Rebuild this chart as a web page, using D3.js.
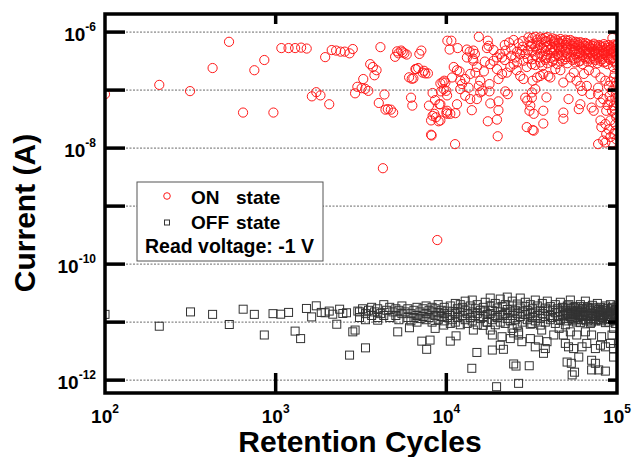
<!DOCTYPE html>
<html>
<head>
<meta charset="utf-8">
<script src="https://cdn.jsdelivr.net/npm/d3@7"></script>
<style>
  body { margin: 0; background: #fff; }
  text { font-family: "Liberation Sans", Arial, sans-serif; font-weight: bold; }
</style>
</head>
<body>
<div id="chart"></div>
<script>
// axis ticks
var xTicks = [100, 1000, 10000, 100000];
var xTickExp = ["2", "3", "4", "5"];
var yTicks = [1e-6, 1e-7, 1e-8, 1e-9, 1e-10, 1e-11, 1e-12];
var yLabelTicks = [1e-6, 1e-8, 1e-10, 1e-12];
var yTickExp = ["-6", "-8", "-10", "-12"];

// ON state: [cycles, current (A)]
var onState = [
  [100, 8.5e-8], [208, 1.23e-7], [315, 9.6e-8], [427, 2.4e-7], [533, 6.8e-7], [644, 4.1e-8], [750, 2.2e-7], [858, 3.3e-7], [970, 4.1e-8],
  [1080, 5.3e-7], [1190, 5.3e-7], [1300, 5.3e-7], [1410, 5.4e-7], [1520, 5.2e-7], [1630, 7.8e-8], [1730, 9.2e-8], [1830, 8.1e-8], [1950, 3.7e-7], [2060, 5.7e-8],
  [2130, 4.9e-7], [2260, 4.8e-7], [2400, 4.6e-7], [2540, 4.6e-7], [2710, 4.3e-7], [2830, 5.1e-7],
  [2920, 8.8e-8], [3010, 1.14e-7], [3190, 1.08e-7], [3260, 1.55e-7], [3350, 1.05e-7], [3490, 9.7e-8], [3580, 2.8e-7], [3710, 2.5e-7], [3790, 1.8e-7], [3900, 2.2e-7],
  [4020, 6.0e-8], [4110, 5.5e-7], [4250, 4.5e-9], [4340, 8.4e-8], [4400, 4.6e-8], [4540, 4.7e-8], [4730, 4.6e-8], [4880, 4.1e-8],
  [5010, 3.75e-7], [5150, 4.65e-7], [5240, 4.3e-7], [5440, 4.8e-7], [5550, 4.5e-7], [5680, 4.3e-7], [5860, 4.1e-7],
  [6050, 1.66e-7], [6210, 7.4e-8], [6270, 1.57e-7], [6320, 5.4e-8], [6410, 1.59e-7], [6590, 2.3e-7], [6650, 2.3e-7], [6840, 2.4e-7], [6950, 4.2e-7],
  [7140, 4.8e-7], [7270, 2.0e-7], [7400, 2.15e-7], [7530, 1.94e-7], [7800, 1.94e-7], [7910, 5.4e-8],
  [8140, 3.0e-8], [8140, 1.7e-8], [8200, 1.65e-8], [8310, 8.9e-8], [8310, 3.6e-8], [8510, 3.9e-8], [8590, 6.7e-8], [8690, 3.4e-8], [8850, 2.6e-10],
  [9010, 2.9e-8], [9100, 5.7e-8], [9230, 1.3e-7], [9230, 5.7e-8], [9230, 3.0e-8], [9300, 9.5e-8], [9500, 1.36e-7], [9650, 1.04e-7], [9720, 1.45e-7], [9870, 1.35e-7],
  [10000, 4.1e-8], [10000, 9.7e-8], [10100, 8.1e-8], [10100, 4.4e-8], [10140, 3.9e-8], [10140, 7.1e-7], [10450, 5.0e-7], [10550, 3.9e-8], [10700, 7.1e-7], [10800, 1.65e-7],
  [11050, 2.5e-7], [11290, 4.0e-8], [11250, 1.17e-8], [11550, 2.2e-7], [11550, 5.7e-8], [11650, 5.3e-7], [11950, 2.1e-7], [12070, 1.45e-7], [12070, 1.04e-7], [12350, 1.27e-7], [12900, 1.55e-7], [12900, 8.0e-8],
  [13200, 5.0e-7], [13200, 3.65e-7], [13500, 1.1e-7], [13700, 4.6e-7], [13800, 1.9e-7], [13800, 7.0e-8], [14100, 4.5e-8], [14300, 3.5e-7], [14400, 4.8e-7], [14400, 3.2e-7], [14700, 4.2e-7], [14800, 2.0e-7],
  [15100, 2.5e-7], [15100, 7.0e-8], [15500, 8.3e-7], [15500, 1.18e-7], [15800, 9.1e-8], [15800, 1.45e-7], [16300, 9.7e-8], [16600, 2.1e-7], [16800, 3.1e-7],
  [17300, 5.3e-7], [17500, 7.1e-7], [17500, 2.9e-8], [17700, 5.8e-7], [17900, 1.27e-7], [17900, 9.5e-8], [18100, 2.8e-7], [18100, 5.9e-8], [18900, 3.2e-7], [18900, 4.9e-7],
  [19800, 3.65e-7], [19800, 2.3e-7], [19800, 3.1e-8], [20000, 1.6e-8], [20200, 1.55e-7], [20200, 6.4e-8], [20200, 4.5e-8], [20700, 4.2e-7],
  [21200, 3.65e-7], [21200, 1.9e-7], [22000, 6.0e-7], [22000, 3.3e-7], [22150, 9.5e-8], [22200, 4.8e-7], [22600, 2.0e-7], [22900, 8.5e-8], [23300, 6.6e-7], [23700, 2.5e-7],
  [24000, 5.2e-7], [24000, 3.9e-7], [24800, 7.3e-7], [24800, 2.8e-7], [25350, 3.65e-7], [25800, 2.2e-7], [26000, 4.6e-7], [26000, 3.0e-7], [26500, 6.4e-7],
  [27100, 4.2e-7], [27100, 1.75e-7], [27700, 4.9e-7], [28000, 7.0e-7], [28000, 5.6e-7], [28300, 3.2e-7], [28300, 1.55e-7], [29000, 4.2e-7], [29000, 7.4e-8], [29600, 2.5e-7], [29600, 2.3e-8], [29800, 6.6e-8],
  [30000, 4.8e-7], [30000, 3.5e-7], [30300, 8.1e-7], [30700, 6.9e-7], [30700, 4.4e-8], [31050, 5.4e-8], [31300, 5.7e-7], [31700, 7.4e-8], [31700, 2.8e-7], [31700, 9.1e-8],
  [32000, 2.05e-8], [32000, 1.45e-7], [32500, 3.9e-8], [32500, 2.0e-8], [33200, 1.04e-7],
  [31900, 7.9e-7], [31900, 6.2e-7], [31900, 4.6e-7], [31900, 3.4e-7],
  [33200, 8.3e-7], [33200, 5.6e-7], [33200, 4.0e-7], [33200, 2.7e-7],
  [34100, 7.4e-7], [34100, 6.6e-7], [34100, 5.0e-7], [34100, 3.7e-7],
  [35500, 8.1e-7], [35500, 6.0e-7], [35500, 4.3e-7], [35500, 3.0e-7],
  [36500, 7.6e-7], [36500, 5.3e-7], [36500, 3.9e-7], [36500, 2.6e-7],
  [38000, 7.9e-7], [38000, 6.8e-7], [38000, 4.7e-7], [38000, 3.3e-7],
  [38500, 7.0e-7], [38500, 5.5e-7], [38500, 3.6e-7],
  [39100, 8.2e-7], [39100, 5.8e-7], [39100, 4.1e-7], [39100, 2.9e-7],
  [40700, 7.3e-7], [40700, 6.1e-7], [40700, 4.9e-7], [40700, 3.6e-7],
  [41800, 7.8e-7], [41800, 5.5e-7], [41800, 4.4e-7], [41800, 3.1e-7],
  [42600, 6.9e-7], [42600, 4.8e-7], [42600, 3.4e-7],
  [43500, 7.5e-7], [43500, 6.4e-7], [43500, 5.1e-7], [43500, 3.8e-7],
  [44700, 7.2e-7], [44700, 5.7e-7], [44700, 4.2e-7], [44700, 2.8e-7],
  [45600, 6.6e-7], [45600, 5.2e-7], [45600, 3.9e-7],
  [46600, 7.6e-7], [46600, 6.3e-7], [46600, 4.8e-7], [46600, 3.5e-7],
  [47800, 7.0e-7], [47800, 5.4e-7], [47800, 4.0e-7], [47800, 3.2e-7],
  [49800, 7.4e-7], [49800, 6.0e-7], [49800, 4.6e-7], [49800, 3.4e-7],
  [50500, 6.5e-7], [50500, 5.0e-7], [50500, 3.7e-7],
  [51200, 7.1e-7], [51200, 5.6e-7], [51200, 4.3e-7], [51200, 2.9e-7],
  [53300, 7.3e-7], [53300, 6.2e-7], [53300, 5.0e-7], [53300, 3.7e-7],
  [54800, 6.9e-7], [54800, 5.8e-7], [54800, 4.5e-7], [54800, 3.3e-7],
  [55900, 6.3e-7], [55900, 4.9e-7], [55900, 3.5e-7],
  [57000, 6.8e-7], [57000, 5.3e-7], [57000, 4.1e-7], [57000, 3.0e-7],
  [58600, 6.6e-7], [58600, 5.9e-7], [58600, 4.7e-7], [58600, 3.6e-7],
  [59800, 6.1e-7], [59800, 4.3e-7], [59800, 3.1e-7],
  [61000, 6.7e-7], [61000, 5.5e-7], [61000, 4.4e-7], [61000, 3.2e-7],
  [62700, 6.4e-7], [62700, 5.2e-7], [62700, 4.0e-7], [62700, 2.8e-7],
  [64000, 5.9e-7], [64000, 4.8e-7], [64000, 3.7e-7],
  [65300, 6.5e-7], [65300, 5.7e-7], [65300, 4.6e-7], [65300, 3.5e-7],
  [67100, 6.2e-7], [67100, 5.0e-7], [67100, 4.2e-7], [67100, 3.1e-7],
  [68400, 5.6e-7], [68400, 4.5e-7], [68400, 3.6e-7],
  [69800, 6.0e-7], [69800, 5.4e-7], [69800, 4.4e-7], [69800, 3.4e-7],
  [71800, 5.8e-7], [71800, 5.1e-7], [71800, 3.9e-7], [71800, 3.0e-7],
  [73200, 6.3e-7], [73200, 4.6e-7], [73200, 3.5e-7],
  [74700, 5.9e-7], [74700, 4.8e-7], [74700, 4.3e-7], [74700, 3.3e-7],
  [76800, 5.6e-7], [76800, 5.2e-7], [76800, 4.1e-7], [76800, 2.9e-7],
  [78300, 6.0e-7], [78300, 4.5e-7], [78300, 3.6e-7],
  [80000, 5.7e-7], [80000, 4.9e-7], [80000, 3.8e-7], [80000, 3.2e-7],
  [82100, 5.5e-7], [82100, 4.7e-7], [82100, 4.2e-7], [82100, 3.4e-7],
  [83800, 6.2e-7], [83800, 4.4e-7], [83800, 3.0e-7],
  [85500, 5.8e-7], [85500, 5.0e-7], [85500, 4.0e-7], [85500, 3.1e-7],
  [87900, 5.4e-7], [87900, 4.6e-7], [87900, 3.7e-7], [87900, 2.8e-7],
  [89700, 6.0e-7], [89700, 4.9e-7], [89700, 3.5e-7],
  [91500, 5.6e-7], [91500, 5.1e-7], [91500, 4.3e-7], [91500, 3.3e-7],
  [94000, 7.9e-7], [94000, 5.3e-7], [94000, 4.5e-7], [94000, 3.6e-7],
  [96000, 6.1e-7], [96000, 4.7e-7], [96000, 3.2e-7],
  [97900, 5.9e-7], [97900, 4.8e-7], [97900, 4.1e-7], [97900, 3.0e-7],
  [100000, 6.1e-7], [100000, 5.2e-7], [100000, 3.9e-7], [100000, 2.7e-7],
  [34000, 1.65e-7], [35500, 1.75e-7], [37000, 1.9e-7], [39600, 1.75e-7], [40700, 1.65e-7], [43500, 2.3e-7], [46600, 2.2e-7], [48500, 1.35e-7],
  [38600, 7.5e-8], [52000, 7.0e-8], [61000, 1.18e-7], [62400, 9.7e-8], [61000, 5.7e-8], [59700, 4.7e-8], [48500, 4.1e-8], [48500, 3.2e-8],
  [37000, 4.4e-8], [37000, 2.65e-8], [73000, 4.4e-8], [71000, 5.0e-8], [77500, 8.5e-8], [80000, 6.1e-8], [83000, 7.0e-8], [89500, 1.18e-7],
  [93500, 9.7e-8], [91500, 6.5e-8], [95500, 5.4e-8], [93500, 4.4e-8], [80000, 3.0e-8], [81000, 2.3e-8], [85500, 2.6e-8], [91500, 3.0e-8],
  [89500, 2.1e-8], [91500, 1.55e-8], [85500, 1.25e-8], [77500, 1.17e-8], [83000, 1.35e-8], [93500, 1.25e-8], [95500, 1.75e-8], [97900, 3.9e-8],
  [77500, 1.1e-7], [69800, 8.5e-8], [66500, 1.18e-7], [95500, 1.65e-7], [95000, 2.5e-7], [86500, 4.4e-8], [55800, 2.0e-7], [53300, 1.65e-7],
  [58000, 1.45e-7], [64000, 1.9e-7], [68400, 2.2e-7], [74700, 2.0e-7], [80000, 1.65e-7], [85500, 1.45e-7], [91500, 1.4e-7], [97900, 1.18e-7],
  [97900, 7.4e-8], [97900, 2.6e-8], [86500, 1.75e-8],
  [97000, 1.9e-7], [99000, 1.4e-7], [98500, 9.0e-8], [99500, 6.0e-8], [96500, 4.8e-8], [99000, 3.4e-8], [98000, 2.0e-8], [99500, 1.4e-8],
  [90500, 8.0e-8], [88000, 5.5e-8]
];

// OFF state: [cycles, current (A)]
var offState = [
  [100, 1.36e-11], [208, 8.5e-12], [317, 1.5e-11], [427, 1.36e-11], [535, 9.1e-12], [645, 1.67e-11], [750, 1.36e-11], [858, 6.0e-12], [965, 1.4e-11],
  [1070, 1.37e-11], [1190, 1.47e-11], [1300, 7.0e-12], [1400, 5.2e-12], [1515, 1.72e-11], [1625, 1.23e-11], [1730, 1.91e-11], [1850, 1.47e-11], [1950, 1.45e-11],
  [2060, 1.55e-11], [2160, 1.37e-11], [2280, 9.2e-12], [2370, 1.67e-11], [2475, 1.41e-11], [2600, 1.45e-11], [2710, 2.7e-12], [2830, 6.8e-12], [2920, 7.3e-12], [3030, 1.55e-11],
  [3360, 3.6e-12], [3960, 1.08e-11], [5190, 6.8e-12], [6080, 8.0e-12], [7180, 4.7e-12], [7670, 3.4e-12], [8030, 4.9e-12], [8600, 7.8e-12], [9650, 8.9e-12],
  [10550, 4.7e-12], [11400, 5.8e-12], [14100, 1.6e-12], [14400, 7.3e-12], [15100, 3.0e-12],
  [17300, 1.0e-11], [18100, 7.3e-12], [18600, 6.0e-12], [18600, 3.3e-12], [19700, 7.7e-13], [20700, 4.0e-12], [21200, 5.6e-12], [21600, 3.4e-12],
  [23700, 5.2e-12], [24300, 7.8e-12], [24800, 6.5e-12], [24800, 1.9e-12], [25600, 1.75e-12], [26500, 6.8e-12], [26500, 6.0e-12], [26500, 8.8e-13], [27700, 4.6e-12],
  [30600, 1.77e-12], [31050, 5.2e-12], [31700, 9.5e-12], [33200, 3.75e-12], [34700, 4.9e-12], [36200, 7.3e-12], [37100, 2.9e-12], [38000, 3.5e-12], [38900, 4.6e-12],
  [42600, 6.0e-12], [45800, 7.8e-12], [48500, 6.0e-12], [49800, 4.3e-12], [51000, 2.05e-12], [52000, 3.75e-12], [53300, 6.8e-12], [54000, 1.95e-12], [54600, 1.23e-12],
  [55700, 3.5e-12], [56400, 1.37e-12], [58100, 6.0e-12], [59700, 2.5e-12], [62400, 3.75e-12], [65300, 6.8e-12], [66500, 4.3e-12], [71000, 2.2e-12], [71000, 1.5e-12],
  [71000, 6.0e-12], [74700, 1.95e-12], [74700, 3.5e-12], [78100, 1.5e-12], [80000, 4.0e-12], [81200, 5.6e-12], [85500, 1.43e-12], [85500, 3.75e-12], [91500, 4.3e-12],
  [93500, 6.0e-12], [95500, 2.5e-12], [95500, 3.5e-12], [95500, 7.8e-12],
  [3100, 1.5e-11], [3100, 1.2e-11], [3230, 1.7e-11], [3360, 1.4e-11], [3360, 1.1e-11], [3500, 1.6e-11], [3650, 1.3e-11], [3650, 1.8e-11], [3800, 1.5e-11],
  [3960, 1.2e-11], [3960, 1.7e-11], [4120, 1.4e-11], [4300, 2.0e-11], [4300, 1.3e-11], [4470, 1.6e-11], [4660, 1.2e-11], [4660, 1.8e-11], [4860, 1.5e-11],
  [5060, 1.3e-11], [5060, 1.7e-11], [5270, 1.6e-11], [5270, 1.1e-11], [5490, 1.9e-11], [5490, 1.4e-11], [5720, 1.5e-11], [5950, 1.2e-11], [5950, 1.7e-11],
  [6200, 1.4e-11], [6200, 1.05e-11], [6460, 1.6e-11], [6460, 1.2e-11], [6730, 1.8e-11], [6730, 1.3e-11], [6730, 1.0e-11], [7010, 1.5e-11], [7010, 1.15e-11],
  [7300, 1.7e-11], [7300, 1.25e-11], [7610, 1.4e-11], [7610, 1.1e-11], [7610, 1.9e-11], [7920, 1.6e-11], [7920, 1.2e-11], [8250, 1.5e-11], [8250, 1.0e-11],
  [8250, 1.8e-11], [8600, 1.3e-11], [8600, 1.7e-11], [8960, 1.45e-11], [8960, 1.1e-11], [8960, 2.0e-11], [9330, 1.6e-11], [9330, 1.25e-11], [9720, 1.4e-11],
  [9720, 1.05e-11], [9720, 1.8e-11], [10130, 1.55e-11], [10130, 1.2e-11],
  [10550, 1.9e-11], [10550, 1.3e-11], [10550, 9.5e-12], [10840, 1.5e-11], [10840, 1.1e-11], [11290, 2.1e-11], [11290, 1.4e-11], [11290, 1.0e-11],
  [11600, 1.7e-11], [11600, 1.2e-11], [12070, 1.5e-11], [12070, 9.0e-12], [12070, 2.0e-11], [12400, 1.3e-11], [12400, 1.8e-11],
  [12900, 1.6e-11], [12900, 1.1e-11], [12900, 2.3e-11], [13260, 1.4e-11], [13260, 9.5e-12], [13810, 1.9e-11], [13810, 1.2e-11],
  [14190, 1.5e-11], [14190, 1.05e-11], [14190, 2.4e-11], [14780, 1.7e-11], [14780, 1.3e-11], [15180, 1.4e-11], [15180, 9.0e-12], [15180, 2.0e-11],
  [15800, 1.6e-11], [15800, 1.15e-11], [16460, 1.8e-11], [16460, 1.25e-11], [16460, 8.8e-12], [16900, 1.5e-11], [16900, 2.2e-11],
  [17370, 1.35e-11], [17370, 1.0e-11], [18080, 1.9e-11], [18080, 1.4e-11], [18080, 2.6e-11], [18580, 1.6e-11], [18580, 1.1e-11],
  [19350, 1.3e-11], [19350, 2.1e-11], [19350, 9.0e-12], [19880, 1.75e-11], [19880, 1.2e-11], [20700, 1.5e-11], [20700, 2.5e-11], [20700, 1.0e-11],
  [21270, 1.85e-11], [21270, 1.3e-11], [22150, 1.4e-11], [22150, 2.0e-11], [22150, 9.5e-12], [22750, 1.65e-11], [22750, 1.15e-11], [22750, 2.7e-11],
  [23690, 1.5e-11], [23690, 1.05e-11], [24340, 1.9e-11], [24340, 1.3e-11], [24340, 2.3e-11], [25350, 1.6e-11], [25350, 1.1e-11],
  [26040, 1.4e-11], [26040, 2.05e-11], [26040, 8.8e-12], [27120, 1.75e-11], [27120, 1.25e-11], [27120, 2.6e-11], [27860, 1.5e-11], [27860, 1.0e-11],
  [29020, 1.85e-11], [29020, 1.35e-11], [29020, 2.2e-11], [29810, 1.6e-11], [29810, 1.1e-11], [31050, 1.4e-11], [31050, 2.0e-11], [31050, 9.2e-12],
  [31900, 1.7e-11], [31900, 1.2e-11], [33220, 1.5e-11], [33220, 1.05e-11], [33220, 2.4e-11], [34130, 1.9e-11], [34130, 1.3e-11],
  [35540, 1.6e-11], [35540, 1.15e-11], [35540, 8.9e-12], [36510, 1.4e-11], [36510, 2.1e-11], [38020, 1.75e-11], [38020, 1.25e-11], [38020, 1.0e-11],
  [39060, 1.55e-11], [39060, 2.3e-11], [40680, 1.85e-11], [40680, 1.3e-11], [40680, 1.1e-11], [41790, 1.6e-11], [41790, 1.2e-11],
  [43520, 1.45e-11], [43520, 2.0e-11], [43520, 9.5e-12], [44710, 1.7e-11], [44710, 1.25e-11], [46560, 1.5e-11], [46560, 1.1e-11], [46560, 2.2e-11],
  [47840, 1.8e-11], [47840, 1.35e-11], [49820, 1.6e-11], [49820, 1.15e-11], [49820, 9.0e-12], [51180, 1.4e-11], [51180, 1.9e-11],
  [53300, 1.7e-11], [53300, 1.25e-11], [53300, 2.4e-11], [54760, 1.5e-11], [54760, 1.05e-11], [57030, 1.85e-11], [57030, 1.35e-11], [57030, 1.1e-11],
  [58590, 1.6e-11], [58590, 1.2e-11], [61010, 1.45e-11], [61010, 2.0e-11], [61010, 9.8e-12], [62690, 1.7e-11], [62690, 1.25e-11],
  [65280, 1.55e-11], [65280, 1.1e-11], [65280, 2.3e-11], [67060, 1.8e-11], [67060, 1.3e-11], [69840, 1.6e-11], [69840, 1.15e-11], [69840, 9.5e-12],
  [71750, 1.4e-11], [71750, 1.95e-11], [74720, 1.7e-11], [74720, 1.25e-11], [74720, 1.05e-11], [76770, 1.55e-11], [76770, 2.1e-11],
  [79950, 1.8e-11], [79950, 1.3e-11], [79950, 1.1e-11], [82140, 1.6e-11], [82140, 1.2e-11], [85540, 1.45e-11], [85540, 1.9e-11], [85540, 9.8e-12],
  [87880, 1.7e-11], [87880, 1.25e-11], [91520, 1.55e-11], [91520, 1.1e-11], [91520, 2.0e-11], [94030, 1.8e-11], [94030, 1.35e-11],
  [97920, 1.6e-11], [97920, 1.15e-11], [97920, 9.5e-12], [100000, 1.5e-11], [100000, 1.9e-11], [100000, 1.2e-11],
  [48800, 1.3e-11], [48800, 1.75e-11], [50500, 1.05e-11], [50500, 1.5e-11], [52200, 1.35e-11], [52200, 2.0e-11], [54000, 1.15e-11], [54000, 1.6e-11],
  [55900, 1.4e-11], [55900, 1.8e-11], [57800, 1.0e-11], [57800, 1.5e-11], [59800, 1.3e-11], [59800, 1.7e-11], [61800, 1.1e-11], [61800, 1.55e-11],
  [64000, 1.35e-11], [64000, 1.85e-11], [66100, 1.05e-11], [66100, 1.45e-11], [68400, 1.25e-11], [68400, 1.7e-11], [70800, 1.4e-11], [70800, 1.0e-11],
  [73200, 1.3e-11], [73200, 1.8e-11], [75700, 1.1e-11], [75700, 1.5e-11], [78300, 1.35e-11], [78300, 1.65e-11], [81000, 1.05e-11], [81000, 1.45e-11],
  [83800, 1.3e-11], [83800, 1.75e-11], [86700, 1.15e-11], [86700, 1.55e-11], [89700, 1.35e-11], [89700, 1.0e-11], [92800, 1.25e-11], [92800, 1.7e-11],
  [96000, 1.4e-11], [96000, 1.05e-11], [99000, 1.3e-11], [99000, 1.65e-11]
];

var margin = {top: 14, right: 16, bottom: 64, left: 105},
    width = 633 - margin.left - margin.right,
    height = 457 - margin.top - margin.bottom;

var svg = d3.select("#chart")
  .append("svg")
    .attr("width", 633)
    .attr("height", 457)
  .append("g")
    .attr("transform", "translate(" + margin.left + "," + margin.top + ")");

var x = d3.scaleLog()
  .domain([100, 100000])
  .range([0, width]);

var y = d3.scaleLog()
  .domain([6.0e-13, 2.05e-6])
  .range([height, 0]);

// dashed grid at every decade
svg.append("g")
  .selectAll("line")
  .data(yTicks)
  .enter()
  .append("line")
    .attr("x1", 0)
    .attr("x2", width)
    .attr("y1", function(d) { return y(d); })
    .attr("y2", function(d) { return y(d); })
    .style("stroke", "#444")
    .style("stroke-width", 0.8)
    .style("stroke-dasharray", "2,1.5");

svg.append("clipPath")
  .attr("id", "plotclip")
  .append("rect")
    .attr("width", width)
    .attr("height", height);

var marks = svg.append("g").attr("clip-path", "url(#plotclip)");

marks.selectAll("rect.off")
  .data(offState)
  .enter()
  .append("rect")
    .attr("class", "off")
    .attr("x", function(d) { return x(d[0]) - 4; })
    .attr("y", function(d) { return y(d[1]) - 4; })
    .attr("width", 8)
    .attr("height", 8)
    .style("fill", "none")
    .style("stroke", "#333")
    .style("stroke-width", 1);

marks.selectAll("circle.on")
  .data(onState)
  .enter()
  .append("circle")
    .attr("class", "on")
    .attr("cx", function(d) { return x(d[0]); })
    .attr("cy", function(d) { return y(d[1]); })
    .attr("r", 4.6)
    .style("fill", "none")
    .style("stroke", "#ff1a1a")
    .style("stroke-width", 1);

// frame
svg.append("rect")
  .attr("width", width)
  .attr("height", height)
  .style("fill", "none")
  .style("stroke", "#000")
  .style("stroke-width", 3.5);

// left (long) and right (short) ticks
svg.append("g")
  .selectAll("line")
  .data(yTicks)
  .enter()
  .append("line")
    .attr("x1", 0).attr("x2", 20)
    .attr("y1", function(d) { return y(d); })
    .attr("y2", function(d) { return y(d); })
    .style("stroke", "#000").style("stroke-width", 3.5);

svg.append("g")
  .selectAll("line")
  .data(yTicks)
  .enter()
  .append("line")
    .attr("x1", width - 9).attr("x2", width)
    .attr("y1", function(d) { return y(d); })
    .attr("y2", function(d) { return y(d); })
    .style("stroke", "#000").style("stroke-width", 3.5);

// bottom (long) and top (short) ticks
var innerX = xTicks.slice(1, 3);
svg.append("g")
  .selectAll("line")
  .data(innerX)
  .enter()
  .append("line")
    .attr("x1", function(d) { return x(d); })
    .attr("x2", function(d) { return x(d); })
    .attr("y1", height - 20).attr("y2", height)
    .style("stroke", "#000").style("stroke-width", 3.5);

svg.append("g")
  .selectAll("line")
  .data(innerX)
  .enter()
  .append("line")
    .attr("x1", function(d) { return x(d); })
    .attr("x2", function(d) { return x(d); })
    .attr("y1", 0).attr("y2", 10)
    .style("stroke", "#000").style("stroke-width", 3.5);

// tick labels, 10 with superscript
var yl = svg.append("g")
  .selectAll("text")
  .data(yLabelTicks)
  .enter()
  .append("text")
    .attr("x", -9)
    .attr("y", function(d) { return y(d) + 9; })
    .attr("text-anchor", "end")
    .style("font-size", "19px");
yl.append("tspan").text("10");
yl.append("tspan")
  .attr("dy", -10)
  .style("font-size", "12px")
  .text(function(d, i) { return yTickExp[i]; });

var xl = svg.append("g")
  .selectAll("text")
  .data(xTicks)
  .enter()
  .append("text")
    .attr("x", function(d) { return x(d); })
    .attr("y", height + 30)
    .attr("text-anchor", "middle")
    .style("font-size", "19px");
xl.append("tspan").text("10");
xl.append("tspan")
  .attr("dy", -10)
  .style("font-size", "12px")
  .text(function(d, i) { return xTickExp[i]; });

// axis titles
svg.append("text")
  .attr("transform", "translate(" + (35 - margin.left) + "," + (213 - margin.top) + ") rotate(-90)")
  .attr("text-anchor", "middle")
  .style("font-size", "30px")
  .text("Current (A)");

svg.append("text")
  .attr("x", 360 - margin.left)
  .attr("y", 452 - margin.top)
  .attr("text-anchor", "middle")
  .style("font-size", "30px")
  .text("Retention Cycles");

// legend
var lg = svg.append("g")
  .attr("transform", "translate(" + (137 - margin.left) + "," + (182 - margin.top) + ")");

lg.append("rect")
  .attr("width", 186)
  .attr("height", 79)
  .style("fill", "#fff")
  .style("stroke", "#555")
  .style("stroke-width", 1);

lg.append("circle")
  .attr("cx", 30).attr("cy", 14).attr("r", 3.3)
  .style("fill", "none").style("stroke", "#ff1a1a").style("stroke-width", 1);
lg.append("rect")
  .attr("x", 27.5).attr("y", 38).attr("width", 5).attr("height", 5)
  .style("fill", "none").style("stroke", "#333").style("stroke-width", 1);

lg.append("text").attr("x", 54).attr("y", 22).style("font-size", "19px").text("ON");
lg.append("text").attr("x", 99).attr("y", 22).style("font-size", "19px").text("state");
lg.append("text").attr("x", 54).attr("y", 47).style("font-size", "19px").text("OFF");
lg.append("text").attr("x", 99).attr("y", 47).style("font-size", "19px").text("state");
lg.append("text").attr("x", 8).attr("y", 71).style("font-size", "19.5px").text("Read voltage: -1 V");
</script>
</body>
</html>
